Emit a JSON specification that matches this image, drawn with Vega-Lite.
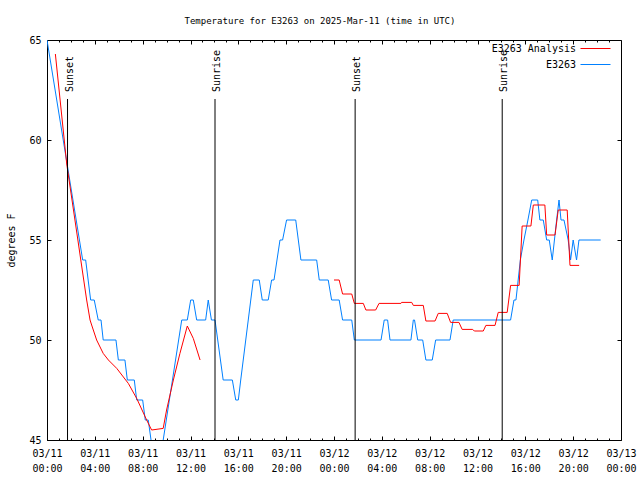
{
  "$schema": "https://vega.github.io/schema/vega-lite/v6.json",
  "width": 574,
  "height": 400,
  "autosize": {"type": "none"},
  "padding": {"left": 47, "top": 40, "right": 19, "bottom": 40},
  "background": "white",
  "title": {"text": "Temperature for E3263 on 2025-Mar-11 (time in UTC)", "font": "DejaVu Sans Mono", "fontSize": 9, "fontWeight": "normal", "color": "black", "offset": 9, "dx": -14, "anchor": "middle"},
  "config": {
    "view": {"stroke": "black", "strokeWidth": 1},
    "axis": {"labelFont": "DejaVu Sans Mono", "labelFontSize": 10, "labelColor": "black", "titleFont": "DejaVu Sans Mono", "titleFontSize": 10, "titleFontWeight": "normal", "titleColor": "black", "grid": false, "domain": false, "tickColor": "black", "tickWidth": 1, "tickSize": -4}
  },
  "datasets": {
    "obs": [
      {"series": "E3263", "seg": "b", "t": "2025-03-11T00:00:00Z", "v": 65},
      {"series": "E3263", "seg": "b", "t": "2025-03-11T02:59:00Z", "v": 54},
      {"series": "E3263", "seg": "b", "t": "2025-03-11T03:14:00Z", "v": 54},
      {"series": "E3263", "seg": "b", "t": "2025-03-11T03:39:00Z", "v": 52},
      {"series": "E3263", "seg": "b", "t": "2025-03-11T03:57:00Z", "v": 52},
      {"series": "E3263", "seg": "b", "t": "2025-03-11T04:17:00Z", "v": 51},
      {"series": "E3263", "seg": "b", "t": "2025-03-11T04:31:00Z", "v": 51},
      {"series": "E3263", "seg": "b", "t": "2025-03-11T04:42:00Z", "v": 50},
      {"series": "E3263", "seg": "b", "t": "2025-03-11T05:46:00Z", "v": 50},
      {"series": "E3263", "seg": "b", "t": "2025-03-11T05:58:00Z", "v": 49},
      {"series": "E3263", "seg": "b", "t": "2025-03-11T06:31:00Z", "v": 49},
      {"series": "E3263", "seg": "b", "t": "2025-03-11T06:43:00Z", "v": 48},
      {"series": "E3263", "seg": "b", "t": "2025-03-11T07:18:00Z", "v": 48},
      {"series": "E3263", "seg": "b", "t": "2025-03-11T07:30:00Z", "v": 47},
      {"series": "E3263", "seg": "b", "t": "2025-03-11T08:00:00Z", "v": 47},
      {"series": "E3263", "seg": "b", "t": "2025-03-11T08:13:00Z", "v": 46},
      {"series": "E3263", "seg": "b", "t": "2025-03-11T08:28:00Z", "v": 46},
      {"series": "E3263", "seg": "b", "t": "2025-03-11T08:42:00Z", "v": 45},
      {"series": "E3263", "seg": "b", "t": "2025-03-11T08:57:00Z", "v": 44},
      {"series": "E3263", "seg": "b", "t": "2025-03-11T09:27:00Z", "v": 44},
      {"series": "E3263", "seg": "b", "t": "2025-03-11T09:43:00Z", "v": 45},
      {"series": "E3263", "seg": "b", "t": "2025-03-11T11:16:00Z", "v": 51},
      {"series": "E3263", "seg": "b", "t": "2025-03-11T11:44:00Z", "v": 51},
      {"series": "E3263", "seg": "b", "t": "2025-03-11T12:01:00Z", "v": 52},
      {"series": "E3263", "seg": "b", "t": "2025-03-11T12:14:00Z", "v": 52},
      {"series": "E3263", "seg": "b", "t": "2025-03-11T12:31:00Z", "v": 51},
      {"series": "E3263", "seg": "b", "t": "2025-03-11T13:16:00Z", "v": 51},
      {"series": "E3263", "seg": "b", "t": "2025-03-11T13:29:00Z", "v": 52},
      {"series": "E3263", "seg": "b", "t": "2025-03-11T13:45:00Z", "v": 51},
      {"series": "E3263", "seg": "b", "t": "2025-03-11T14:03:00Z", "v": 51},
      {"series": "E3263", "seg": "b", "t": "2025-03-11T14:44:00Z", "v": 48},
      {"series": "E3263", "seg": "b", "t": "2025-03-11T15:30:00Z", "v": 48},
      {"series": "E3263", "seg": "b", "t": "2025-03-11T15:47:00Z", "v": 47},
      {"series": "E3263", "seg": "b", "t": "2025-03-11T16:00:00Z", "v": 47},
      {"series": "E3263", "seg": "b", "t": "2025-03-11T16:12:00Z", "v": 48},
      {"series": "E3263", "seg": "b", "t": "2025-03-11T17:15:00Z", "v": 53},
      {"series": "E3263", "seg": "b", "t": "2025-03-11T17:45:00Z", "v": 53},
      {"series": "E3263", "seg": "b", "t": "2025-03-11T18:00:00Z", "v": 52},
      {"series": "E3263", "seg": "b", "t": "2025-03-11T18:30:00Z", "v": 52},
      {"series": "E3263", "seg": "b", "t": "2025-03-11T18:47:00Z", "v": 53},
      {"series": "E3263", "seg": "b", "t": "2025-03-11T18:59:00Z", "v": 53},
      {"series": "E3263", "seg": "b", "t": "2025-03-11T19:29:00Z", "v": 55},
      {"series": "E3263", "seg": "b", "t": "2025-03-11T19:42:00Z", "v": 55},
      {"series": "E3263", "seg": "b", "t": "2025-03-11T20:02:00Z", "v": 56},
      {"series": "E3263", "seg": "b", "t": "2025-03-11T20:48:00Z", "v": 56},
      {"series": "E3263", "seg": "b", "t": "2025-03-11T21:14:00Z", "v": 54},
      {"series": "E3263", "seg": "b", "t": "2025-03-11T22:33:00Z", "v": 54},
      {"series": "E3263", "seg": "b", "t": "2025-03-11T22:46:00Z", "v": 53},
      {"series": "E3263", "seg": "b", "t": "2025-03-11T23:31:00Z", "v": 53},
      {"series": "E3263", "seg": "b", "t": "2025-03-11T23:48:00Z", "v": 52},
      {"series": "E3263", "seg": "b", "t": "2025-03-12T00:26:00Z", "v": 52},
      {"series": "E3263", "seg": "b", "t": "2025-03-12T00:43:00Z", "v": 51},
      {"series": "E3263", "seg": "b", "t": "2025-03-12T01:29:00Z", "v": 51},
      {"series": "E3263", "seg": "b", "t": "2025-03-12T01:42:00Z", "v": 50},
      {"series": "E3263", "seg": "b", "t": "2025-03-12T03:56:00Z", "v": 50},
      {"series": "E3263", "seg": "b", "t": "2025-03-12T04:12:00Z", "v": 51},
      {"series": "E3263", "seg": "b", "t": "2025-03-12T04:29:00Z", "v": 51},
      {"series": "E3263", "seg": "b", "t": "2025-03-12T04:41:00Z", "v": 50},
      {"series": "E3263", "seg": "b", "t": "2025-03-12T06:26:00Z", "v": 50},
      {"series": "E3263", "seg": "b", "t": "2025-03-12T06:38:00Z", "v": 51},
      {"series": "E3263", "seg": "b", "t": "2025-03-12T06:44:00Z", "v": 51},
      {"series": "E3263", "seg": "b", "t": "2025-03-12T07:00:00Z", "v": 50},
      {"series": "E3263", "seg": "b", "t": "2025-03-12T07:25:00Z", "v": 50},
      {"series": "E3263", "seg": "b", "t": "2025-03-12T07:41:00Z", "v": 49},
      {"series": "E3263", "seg": "b", "t": "2025-03-12T08:13:00Z", "v": 49},
      {"series": "E3263", "seg": "b", "t": "2025-03-12T08:30:00Z", "v": 50},
      {"series": "E3263", "seg": "b", "t": "2025-03-12T09:42:00Z", "v": 50},
      {"series": "E3263", "seg": "b", "t": "2025-03-12T09:58:00Z", "v": 51},
      {"series": "E3263", "seg": "b", "t": "2025-03-12T14:46:00Z", "v": 51},
      {"series": "E3263", "seg": "b", "t": "2025-03-12T15:03:00Z", "v": 52},
      {"series": "E3263", "seg": "b", "t": "2025-03-12T15:13:00Z", "v": 52},
      {"series": "E3263", "seg": "b", "t": "2025-03-12T15:24:00Z", "v": 53},
      {"series": "E3263", "seg": "b", "t": "2025-03-12T15:35:00Z", "v": 54},
      {"series": "E3263", "seg": "b", "t": "2025-03-12T15:53:00Z", "v": 55},
      {"series": "E3263", "seg": "b", "t": "2025-03-12T16:13:00Z", "v": 56},
      {"series": "E3263", "seg": "b", "t": "2025-03-12T16:32:00Z", "v": 57},
      {"series": "E3263", "seg": "b", "t": "2025-03-12T17:02:00Z", "v": 57},
      {"series": "E3263", "seg": "b", "t": "2025-03-12T17:13:00Z", "v": 56},
      {"series": "E3263", "seg": "b", "t": "2025-03-12T17:30:00Z", "v": 56},
      {"series": "E3263", "seg": "b", "t": "2025-03-12T17:47:00Z", "v": 55},
      {"series": "E3263", "seg": "b", "t": "2025-03-12T18:00:00Z", "v": 55},
      {"series": "E3263", "seg": "b", "t": "2025-03-12T18:15:00Z", "v": 54},
      {"series": "E3263", "seg": "b", "t": "2025-03-12T18:37:00Z", "v": 56},
      {"series": "E3263", "seg": "b", "t": "2025-03-12T18:49:00Z", "v": 57},
      {"series": "E3263", "seg": "b", "t": "2025-03-12T18:59:00Z", "v": 56},
      {"series": "E3263", "seg": "b", "t": "2025-03-12T19:14:00Z", "v": 56},
      {"series": "E3263", "seg": "b", "t": "2025-03-12T19:35:00Z", "v": 55},
      {"series": "E3263", "seg": "b", "t": "2025-03-12T19:47:00Z", "v": 54},
      {"series": "E3263", "seg": "b", "t": "2025-03-12T20:00:00Z", "v": 55},
      {"series": "E3263", "seg": "b", "t": "2025-03-12T20:17:00Z", "v": 54},
      {"series": "E3263", "seg": "b", "t": "2025-03-12T20:29:00Z", "v": 55},
      {"series": "E3263", "seg": "b", "t": "2025-03-12T22:18:00Z", "v": 55},
      {"series": "E3263 Analysis", "seg": "r1", "t": "2025-03-11T00:42:00Z", "v": 64.3},
      {"series": "E3263 Analysis", "seg": "r1", "t": "2025-03-11T01:39:00Z", "v": 58.8},
      {"series": "E3263 Analysis", "seg": "r1", "t": "2025-03-11T03:19:00Z", "v": 52.0},
      {"series": "E3263 Analysis", "seg": "r1", "t": "2025-03-11T03:36:00Z", "v": 51.0},
      {"series": "E3263 Analysis", "seg": "r1", "t": "2025-03-11T03:44:00Z", "v": 50.75},
      {"series": "E3263 Analysis", "seg": "r1", "t": "2025-03-11T04:09:00Z", "v": 50.0},
      {"series": "E3263 Analysis", "seg": "r1", "t": "2025-03-11T04:42:00Z", "v": 49.33},
      {"series": "E3263 Analysis", "seg": "r1", "t": "2025-03-11T05:08:00Z", "v": 49.0},
      {"series": "E3263 Analysis", "seg": "r1", "t": "2025-03-11T05:50:00Z", "v": 48.58},
      {"series": "E3263 Analysis", "seg": "r1", "t": "2025-03-11T06:48:00Z", "v": 47.83},
      {"series": "E3263 Analysis", "seg": "r1", "t": "2025-03-11T07:30:00Z", "v": 47.08},
      {"series": "E3263 Analysis", "seg": "r1", "t": "2025-03-11T08:20:00Z", "v": 46.0},
      {"series": "E3263 Analysis", "seg": "r1", "t": "2025-03-11T08:45:00Z", "v": 45.5},
      {"series": "E3263 Analysis", "seg": "r1", "t": "2025-03-11T09:43:00Z", "v": 45.58},
      {"series": "E3263 Analysis", "seg": "r1", "t": "2025-03-11T10:00:00Z", "v": 46.5},
      {"series": "E3263 Analysis", "seg": "r1", "t": "2025-03-11T10:34:00Z", "v": 48.0},
      {"series": "E3263 Analysis", "seg": "r1", "t": "2025-03-11T11:07:00Z", "v": 49.33},
      {"series": "E3263 Analysis", "seg": "r1", "t": "2025-03-11T11:44:00Z", "v": 50.7},
      {"series": "E3263 Analysis", "seg": "r1", "t": "2025-03-11T12:14:00Z", "v": 50.08},
      {"series": "E3263 Analysis", "seg": "r1", "t": "2025-03-11T12:48:00Z", "v": 49.0},
      {"series": "E3263 Analysis", "seg": "r2", "t": "2025-03-12T00:00:00Z", "v": 53.0},
      {"series": "E3263 Analysis", "seg": "r2", "t": "2025-03-12T00:26:00Z", "v": 53.0},
      {"series": "E3263 Analysis", "seg": "r2", "t": "2025-03-12T00:43:00Z", "v": 52.3},
      {"series": "E3263 Analysis", "seg": "r2", "t": "2025-03-12T01:29:00Z", "v": 52.3},
      {"series": "E3263 Analysis", "seg": "r2", "t": "2025-03-12T01:42:00Z", "v": 51.83},
      {"series": "E3263 Analysis", "seg": "r2", "t": "2025-03-12T02:27:00Z", "v": 51.83},
      {"series": "E3263 Analysis", "seg": "r2", "t": "2025-03-12T02:40:00Z", "v": 51.5},
      {"series": "E3263 Analysis", "seg": "r2", "t": "2025-03-12T03:29:00Z", "v": 51.5},
      {"series": "E3263 Analysis", "seg": "r2", "t": "2025-03-12T03:46:00Z", "v": 51.83},
      {"series": "E3263 Analysis", "seg": "r2", "t": "2025-03-12T05:36:00Z", "v": 51.83},
      {"series": "E3263 Analysis", "seg": "r2", "t": "2025-03-12T05:39:00Z", "v": 51.88},
      {"series": "E3263 Analysis", "seg": "r2", "t": "2025-03-12T06:30:00Z", "v": 51.88},
      {"series": "E3263 Analysis", "seg": "r2", "t": "2025-03-12T06:38:00Z", "v": 51.73},
      {"series": "E3263 Analysis", "seg": "r2", "t": "2025-03-12T07:28:00Z", "v": 51.73},
      {"series": "E3263 Analysis", "seg": "r2", "t": "2025-03-12T07:41:00Z", "v": 50.95},
      {"series": "E3263 Analysis", "seg": "r2", "t": "2025-03-12T08:27:00Z", "v": 50.95},
      {"series": "E3263 Analysis", "seg": "r2", "t": "2025-03-12T08:43:00Z", "v": 51.33},
      {"series": "E3263 Analysis", "seg": "r2", "t": "2025-03-12T09:28:00Z", "v": 51.33},
      {"series": "E3263 Analysis", "seg": "r2", "t": "2025-03-12T09:45:00Z", "v": 50.88},
      {"series": "E3263 Analysis", "seg": "r2", "t": "2025-03-12T10:27:00Z", "v": 50.88},
      {"series": "E3263 Analysis", "seg": "r2", "t": "2025-03-12T10:43:00Z", "v": 50.53},
      {"series": "E3263 Analysis", "seg": "r2", "t": "2025-03-12T11:36:00Z", "v": 50.53},
      {"series": "E3263 Analysis", "seg": "r2", "t": "2025-03-12T11:44:00Z", "v": 50.45},
      {"series": "E3263 Analysis", "seg": "r2", "t": "2025-03-12T12:29:00Z", "v": 50.45},
      {"series": "E3263 Analysis", "seg": "r2", "t": "2025-03-12T12:42:00Z", "v": 50.73},
      {"series": "E3263 Analysis", "seg": "r2", "t": "2025-03-12T13:28:00Z", "v": 50.73},
      {"series": "E3263 Analysis", "seg": "r2", "t": "2025-03-12T13:44:00Z", "v": 51.38},
      {"series": "E3263 Analysis", "seg": "r2", "t": "2025-03-12T14:29:00Z", "v": 51.38},
      {"series": "E3263 Analysis", "seg": "r2", "t": "2025-03-12T14:46:00Z", "v": 52.73},
      {"series": "E3263 Analysis", "seg": "r2", "t": "2025-03-12T15:29:00Z", "v": 52.73},
      {"series": "E3263 Analysis", "seg": "r2", "t": "2025-03-12T15:44:00Z", "v": 55.7},
      {"series": "E3263 Analysis", "seg": "r2", "t": "2025-03-12T16:28:00Z", "v": 55.7},
      {"series": "E3263 Analysis", "seg": "r2", "t": "2025-03-12T16:40:00Z", "v": 56.75},
      {"series": "E3263 Analysis", "seg": "r2", "t": "2025-03-12T17:38:00Z", "v": 56.75},
      {"series": "E3263 Analysis", "seg": "r2", "t": "2025-03-12T17:47:00Z", "v": 55.25},
      {"series": "E3263 Analysis", "seg": "r2", "t": "2025-03-12T18:29:00Z", "v": 55.25},
      {"series": "E3263 Analysis", "seg": "r2", "t": "2025-03-12T18:45:00Z", "v": 56.5},
      {"series": "E3263 Analysis", "seg": "r2", "t": "2025-03-12T19:30:00Z", "v": 56.5},
      {"series": "E3263 Analysis", "seg": "r2", "t": "2025-03-12T19:44:00Z", "v": 53.73},
      {"series": "E3263 Analysis", "seg": "r2", "t": "2025-03-12T20:30:00Z", "v": 53.73}
    ],
    "sun": [
      {"event": "Sunset", "t": "2025-03-11T01:43:00Z"},
      {"event": "Sunrise", "t": "2025-03-11T14:03:00Z"},
      {"event": "Sunset", "t": "2025-03-12T01:46:00Z"},
      {"event": "Sunrise", "t": "2025-03-12T14:04:00Z"}
    ]
  },
  "layer": [
    {
      "data": {"name": "obs"},
      "mark": {"type": "line", "strokeWidth": 1, "clip": true},
      "encoding": {
        "x": {"field": "t", "type": "temporal", "scale": {"type": "utc", "domain": [{"year": 2025, "month": 3, "date": 11, "utc": true}, {"year": 2025, "month": 3, "date": 13, "utc": true}]},
              "axis": {"orient": "bottom", "title": null,
                       "values": [
                         {"year": 2025, "month": 3, "date": 11, "hours": 0, "utc": true},
                         {"year": 2025, "month": 3, "date": 11, "hours": 4, "utc": true},
                         {"year": 2025, "month": 3, "date": 11, "hours": 8, "utc": true},
                         {"year": 2025, "month": 3, "date": 11, "hours": 12, "utc": true},
                         {"year": 2025, "month": 3, "date": 11, "hours": 16, "utc": true},
                         {"year": 2025, "month": 3, "date": 11, "hours": 20, "utc": true},
                         {"year": 2025, "month": 3, "date": 12, "hours": 0, "utc": true},
                         {"year": 2025, "month": 3, "date": 12, "hours": 4, "utc": true},
                         {"year": 2025, "month": 3, "date": 12, "hours": 8, "utc": true},
                         {"year": 2025, "month": 3, "date": 12, "hours": 12, "utc": true},
                         {"year": 2025, "month": 3, "date": 12, "hours": 16, "utc": true},
                         {"year": 2025, "month": 3, "date": 12, "hours": 20, "utc": true},
                         {"year": 2025, "month": 3, "date": 13, "hours": 0, "utc": true}
                       ],
                       "labelExpr": "[utcFormat(datum.value, '%m/%d'), utcFormat(datum.value, '%H:%M')]", "labelPadding": 12, "labelLineHeight": 15, "labelBaseline": "top", "labelFlush": false, "labelOverlap": false}},
        "y": {"field": "v", "type": "quantitative", "scale": {"domain": [45, 65], "nice": false, "zero": false},
              "axis": {"orient": "left", "title": "degrees F", "values": [45, 50, 55, 60, 65], "labelPadding": 10, "titlePadding": 12, "labelFlush": false}},
        "color": {"field": "series", "type": "nominal", "scale": {"domain": ["E3263 Analysis", "E3263"], "range": ["#ff0000", "#0080ff"]},
                  "legend": {"orient": "none", "legendX": 543, "legendY": 3, "direction": "vertical", "title": null, "symbolType": "M-3,0L3,0", "symbolSize": 100, "symbolStrokeWidth": 1, "labelFont": "DejaVu Sans Mono", "labelFontSize": 10, "labelColor": "black", "labelAlign": "right", "labelOffset": -25, "rowPadding": 5, "padding": 0}},
        "detail": {"field": "seg"}
      }
    },
    {
      "data": {"name": "sun"},
      "mark": {"type": "rule", "color": "black", "strokeWidth": 1},
      "encoding": {
        "x": {"field": "t", "type": "temporal", "axis": null},
        "y": {"datum": 62.05, "type": "quantitative", "axis": null},
        "y2": {"datum": 45}
      }
    },
    {
      "data": {"name": "sun"},
      "mark": {"type": "text", "angle": 270, "align": "left", "baseline": "middle", "dy": 2, "font": "DejaVu Sans Mono", "fontSize": 10, "color": "black"},
      "encoding": {
        "x": {"field": "t", "type": "temporal", "axis": null},
        "y": {"datum": 62.4, "type": "quantitative", "axis": null},
        "text": {"field": "event"}
      }
    },
    {
      "data": {"name": "sun"},
      "mark": {"type": "rule", "opacity": 0},
      "encoding": {
        "x": {"field": "t", "type": "temporal",
              "axis": {"orient": "top", "title": null, "labels": false,
                       "values": [
                         {"year": 2025, "month": 3, "date": 11, "hours": 4, "utc": true},
                         {"year": 2025, "month": 3, "date": 11, "hours": 8, "utc": true},
                         {"year": 2025, "month": 3, "date": 11, "hours": 12, "utc": true},
                         {"year": 2025, "month": 3, "date": 11, "hours": 16, "utc": true},
                         {"year": 2025, "month": 3, "date": 11, "hours": 20, "utc": true},
                         {"year": 2025, "month": 3, "date": 12, "hours": 0, "utc": true},
                         {"year": 2025, "month": 3, "date": 12, "hours": 4, "utc": true},
                         {"year": 2025, "month": 3, "date": 12, "hours": 8, "utc": true},
                         {"year": 2025, "month": 3, "date": 12, "hours": 12, "utc": true},
                         {"year": 2025, "month": 3, "date": 12, "hours": 16, "utc": true},
                         {"year": 2025, "month": 3, "date": 12, "hours": 20, "utc": true}
                       ]}}
      }
    },
    {
      "data": {"name": "sun"},
      "mark": {"type": "rule", "opacity": 0},
      "encoding": {
        "x": {"field": "t", "type": "temporal",
              "axis": {"orient": "top", "title": null, "labels": false, "tickSize": -2, "tickCount": 48}}
      }
    },
    {
      "data": {"name": "sun"},
      "mark": {"type": "rule", "opacity": 0},
      "encoding": {
        "x": {"field": "t", "type": "temporal",
              "axis": {"orient": "bottom", "title": null, "labels": false, "tickSize": -2, "tickCount": 48}}
      }
    },
    {
      "data": {"name": "obs"},
      "mark": {"type": "point", "opacity": 0, "clip": true},
      "encoding": {
        "x": {"field": "t", "type": "temporal", "axis": null},
        "y": {"field": "v", "type": "quantitative",
              "axis": {"orient": "right", "title": null, "labels": false, "values": [50, 55, 60]}}
      }
    }
  ],
  "resolve": {"axis": {"x": "independent", "y": "independent"}}
}
